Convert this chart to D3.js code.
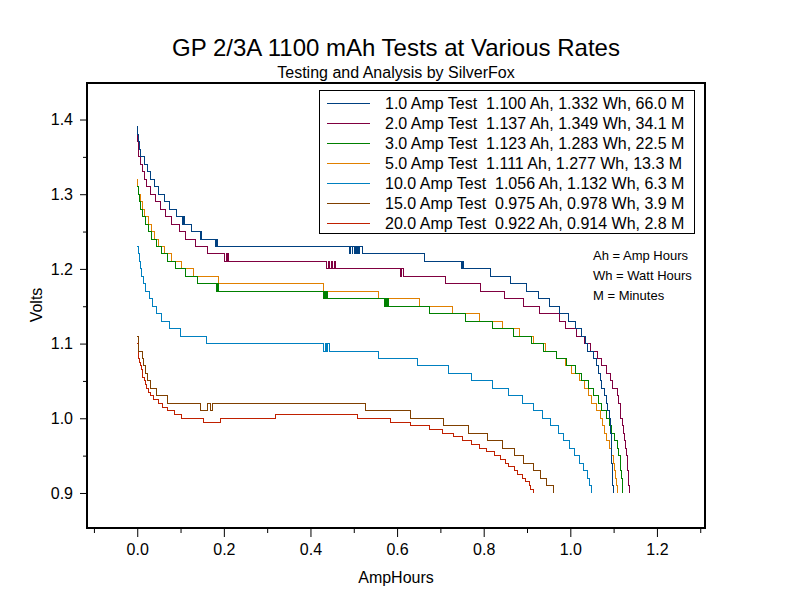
<!DOCTYPE html>
<html>
<head>
<meta charset="utf-8">
<script src="https://cdn.jsdelivr.net/npm/d3@7"></script>
<style>
body { margin: 0; background: #fff; }
text { font-family: "Liberation Sans", Arial, sans-serif; fill: #000; }
</style>
</head>
<body>
<div id="chart"></div>
<script>
// [AmpHours, Volts] – each point is where a new voltage level starts
const test1A = [[0.000,1.39],[0.001,1.38],[0.003,1.37],[0.005,1.36],[0.008,1.35],[0.016,1.34],[0.023,1.33],[0.030,1.32],[0.039,1.31],[0.048,1.30],[0.062,1.29],[0.074,1.28],[0.090,1.27],[0.105,1.26],[0.106,1.27],[0.107,1.26],[0.108,1.27],[0.109,1.26],[0.126,1.25],[0.146,1.24],[0.147,1.25],[0.148,1.24],[0.181,1.23],[0.183,1.24],[0.185,1.23],[0.491,1.22],[0.493,1.23],[0.496,1.22],[0.498,1.23],[0.501,1.22],[0.503,1.23],[0.506,1.22],[0.508,1.23],[0.511,1.22],[0.513,1.23],[0.519,1.22],[0.520,1.23],[0.521,1.22],[0.663,1.21],[0.748,1.20],[0.750,1.21],[0.753,1.20],[0.815,1.19],[0.861,1.18],[0.898,1.17],[0.927,1.16],[0.952,1.15],[0.976,1.14],[0.995,1.13],[1.011,1.12],[1.025,1.11],[1.034,1.10],[1.040,1.09],[1.053,1.08],[1.061,1.07],[1.065,1.06],[1.070,1.05],[1.073,1.04],[1.078,1.03],[1.084,1.02],[1.086,1.01],[1.090,1.00],[1.092,0.99],[1.093,0.98],[1.094,0.97],[1.095,0.96],[1.096,0.95],[1.096,0.94],[1.097,0.93],[1.097,0.92],[1.098,0.91],[1.099,0.90]];
const test2A = [[0.000,1.38],[0.001,1.37],[0.002,1.36],[0.004,1.35],[0.007,1.34],[0.011,1.33],[0.016,1.32],[0.022,1.31],[0.030,1.30],[0.042,1.29],[0.053,1.28],[0.065,1.27],[0.080,1.26],[0.097,1.25],[0.112,1.24],[0.134,1.23],[0.162,1.22],[0.201,1.21],[0.207,1.22],[0.209,1.21],[0.210,1.22],[0.211,1.21],[0.438,1.20],[0.441,1.21],[0.445,1.20],[0.449,1.21],[0.452,1.20],[0.455,1.21],[0.457,1.20],[0.607,1.19],[0.610,1.20],[0.614,1.19],[0.711,1.18],[0.792,1.17],[0.848,1.16],[0.891,1.15],[0.930,1.14],[0.976,1.13],[0.990,1.12],[1.015,1.11],[1.032,1.10],[1.047,1.09],[1.062,1.08],[1.073,1.07],[1.084,1.06],[1.092,1.05],[1.098,1.04],[1.109,1.03],[1.112,1.02],[1.115,1.01],[1.116,1.00],[1.120,0.99],[1.122,0.98],[1.125,0.97],[1.128,0.96],[1.130,0.95],[1.132,0.94],[1.133,0.93],[1.134,0.92],[1.135,0.91],[1.136,0.90]];
const test3A = [[0.000,1.31],[0.002,1.30],[0.005,1.29],[0.008,1.28],[0.012,1.27],[0.018,1.26],[0.025,1.25],[0.032,1.24],[0.044,1.23],[0.055,1.22],[0.070,1.21],[0.088,1.20],[0.111,1.19],[0.138,1.18],[0.182,1.17],[0.184,1.18],[0.185,1.17],[0.187,1.18],[0.188,1.17],[0.430,1.16],[0.432,1.17],[0.434,1.16],[0.437,1.17],[0.440,1.16],[0.572,1.15],[0.574,1.16],[0.576,1.15],[0.578,1.16],[0.580,1.15],[0.676,1.14],[0.757,1.13],[0.820,1.12],[0.868,1.11],[0.911,1.10],[0.939,1.09],[0.969,1.08],[0.992,1.07],[1.011,1.06],[1.026,1.05],[1.042,1.04],[1.053,1.03],[1.065,1.02],[1.073,1.01],[1.084,1.00],[1.090,0.99],[1.096,0.98],[1.103,0.97],[1.109,0.96],[1.112,0.95],[1.115,0.94],[1.117,0.93],[1.119,0.92],[1.120,0.91],[1.121,0.90]];
const test5A = [[0.000,1.32],[0.001,1.31],[0.003,1.30],[0.007,1.29],[0.011,1.28],[0.016,1.27],[0.025,1.26],[0.032,1.25],[0.039,1.24],[0.049,1.23],[0.062,1.22],[0.079,1.21],[0.102,1.20],[0.131,1.19],[0.188,1.18],[0.430,1.17],[0.557,1.16],[0.651,1.15],[0.728,1.14],[0.791,1.13],[0.844,1.12],[0.882,1.11],[0.915,1.10],[0.942,1.09],[0.969,1.08],[0.988,1.07],[1.003,1.06],[1.021,1.05],[1.032,1.04],[1.042,1.03],[1.049,1.02],[1.061,1.01],[1.069,1.00],[1.074,0.99],[1.078,0.98],[1.084,0.97],[1.090,0.96],[1.094,0.95],[1.099,0.94],[1.102,0.93],[1.104,0.92],[1.107,0.91],[1.110,0.90]];
const test10A = [[0.000,1.23],[0.003,1.22],[0.005,1.21],[0.007,1.20],[0.010,1.19],[0.015,1.18],[0.020,1.17],[0.028,1.16],[0.036,1.15],[0.045,1.14],[0.057,1.13],[0.074,1.12],[0.100,1.11],[0.159,1.10],[0.430,1.09],[0.434,1.10],[0.438,1.09],[0.440,1.10],[0.443,1.09],[0.558,1.08],[0.647,1.07],[0.718,1.06],[0.772,1.05],[0.820,1.04],[0.858,1.03],[0.890,1.02],[0.915,1.01],[0.936,1.00],[0.955,0.99],[0.972,0.98],[0.984,0.97],[0.998,0.96],[1.009,0.95],[1.021,0.94],[1.030,0.93],[1.039,0.92],[1.044,0.91],[1.049,0.90]];
const test15A = [[0.000,1.11],[0.002,1.10],[0.003,1.09],[0.011,1.08],[0.015,1.07],[0.018,1.06],[0.024,1.05],[0.031,1.04],[0.045,1.03],[0.071,1.02],[0.145,1.01],[0.162,1.02],[0.169,1.01],[0.173,1.02],[0.526,1.01],[0.630,1.00],[0.708,0.99],[0.764,0.98],[0.808,0.97],[0.844,0.96],[0.871,0.95],[0.893,0.94],[0.916,0.93],[0.932,0.92],[0.944,0.91],[0.961,0.90]];
const test20A = [[0.000,1.10],[0.002,1.085],[0.003,1.08],[0.005,1.075],[0.007,1.07],[0.009,1.065],[0.011,1.06],[0.013,1.055],[0.016,1.05],[0.018,1.045],[0.022,1.04],[0.026,1.035],[0.030,1.03],[0.038,1.025],[0.048,1.02],[0.058,1.015],[0.070,1.01],[0.087,1.005],[0.103,1.00],[0.152,0.995],[0.193,1.00],[0.320,1.005],[0.508,1.00],[0.585,0.995],[0.632,0.99],[0.674,0.985],[0.705,0.98],[0.731,0.975],[0.752,0.97],[0.771,0.965],[0.790,0.96],[0.807,0.955],[0.824,0.95],[0.838,0.945],[0.851,0.94],[0.858,0.935],[0.870,0.93],[0.879,0.925],[0.889,0.92],[0.897,0.915],[0.905,0.91],[0.909,0.905],[0.915,0.90]];

const seriesData = [test1A, test2A, test3A, test5A, test10A, test15A, test20A];
const seriesColors = ['#004080', '#800040', '#008000', '#e08000', '#0080c0', '#804000', '#c02000'];
const legendLabels = [
    '1.0 Amp Test  1.100 Ah, 1.332 Wh, 66.0 M',
    '2.0 Amp Test  1.137 Ah, 1.349 Wh, 34.1 M',
    '3.0 Amp Test  1.123 Ah, 1.283 Wh, 22.5 M',
    '5.0 Amp Test  1.111 Ah, 1.277 Wh, 13.3 M',
    '10.0 Amp Test  1.056 Ah, 1.132 Wh, 6.3 M',
    '15.0 Amp Test  0.975 Ah, 0.978 Wh, 3.9 M',
    '20.0 Amp Test  0.922 Ah, 0.914 Wh, 2.8 M'
];
const notes = ['Ah = Amp Hours', 'Wh = Watt Hours', 'M = Minutes'];

const xMajorTicks = [0, 0.2, 0.4, 0.6, 0.8, 1.0, 1.2];
const xMinorTicks = [-0.1, 0.1, 0.3, 0.5, 0.7, 0.9, 1.1, 1.3];
const yMajorTicks = [0.9, 1.0, 1.1, 1.2, 1.3, 1.4];
const yMinorTicks = [0.95, 1.05, 1.15, 1.25, 1.35];

// SVG
const svg = d3.select('#chart')
    .append('svg')
    .attr('width', 792)
    .attr('height', 611);

const x = d3.scaleLinear().domain([-0.116, 1.311]).range([87, 705]);
const y = d3.scaleLinear().domain([0.8531, 1.4489]).range([528, 83]);

// titles
svg.append('text').attr('x', 396).attr('y', 56).attr('text-anchor', 'middle')
    .style('font-size', '24px').text('GP 2/3A 1100 mAh Tests at Various Rates');
svg.append('text').attr('x', 396).attr('y', 78).attr('text-anchor', 'middle')
    .style('font-size', '16px').text('Testing and Analysis by SilverFox');

// axes
function styleAxis(g) {
    g.select('.domain').remove();
    g.selectAll('line').attr('stroke', '#000');
    g.selectAll('text').style('font-size', '16px').attr('font-family', null);
}

svg.append('g').attr('transform', 'translate(0,528)')
    .call(d3.axisBottom(x).tickValues(xMinorTicks).tickSize(5).tickFormat(''))
    .call(styleAxis);
svg.append('g').attr('transform', 'translate(0,528)')
    .call(d3.axisBottom(x).tickValues(xMajorTicks).tickSize(9).tickPadding(7).tickFormat(d3.format('.1f')))
    .call(styleAxis);

svg.append('g').attr('transform', 'translate(87,0)')
    .call(d3.axisLeft(y).tickValues(yMinorTicks).tickSize(4).tickFormat(''))
    .call(styleAxis);
svg.append('g').attr('transform', 'translate(87,0)')
    .call(d3.axisLeft(y).tickValues(yMajorTicks).tickSize(7).tickPadding(7).tickFormat(d3.format('.1f')))
    .call(styleAxis);

// axis labels
svg.append('text').attr('x', 396).attr('y', 583).attr('text-anchor', 'middle')
    .style('font-size', '16px').text('AmpHours');
svg.append('text').attr('transform', 'translate(42,305)rotate(-90)').attr('text-anchor', 'middle')
    .style('font-size', '16px').text('Volts');

// curves
const line = d3.line()
    .x(d => x(d[0]))
    .y(d => y(d[1]))
    .curve(d3.curveStepAfter);

svg.append('g').selectAll('path')
    .data(seriesData.slice().reverse())
    .enter().append('path')
    .attr('fill', 'none')
    .attr('stroke', (d, i) => seriesColors[seriesData.length - 1 - i])
    .attr('stroke-width', 1)
    .attr('shape-rendering', 'crispEdges')
    .attr('d', line);

// frame
svg.append('rect')
    .attr('x', 87).attr('y', 83).attr('width', 618).attr('height', 445)
    .attr('fill', 'none').attr('stroke', '#000').attr('stroke-width', 2);

// legend
const legend = svg.append('g');
legend.append('rect')
    .attr('x', 319.5).attr('y', 90.5).attr('width', 375).attr('height', 143)
    .attr('fill', '#fff').attr('stroke', '#000');

const rows = legend.selectAll('g.row')
    .data(legendLabels)
    .enter().append('g')
    .attr('transform', (d, i) => `translate(0,${103 + i * 20})`);
rows.append('line')
    .attr('x1', 327).attr('x2', 370).attr('y1', 0.5).attr('y2', 0.5)
    .attr('stroke', (d, i) => seriesColors[i]);
rows.append('text')
    .attr('x', 385).attr('y', 5.5)
    .attr('xml:space', 'preserve')
    .style('white-space', 'pre')
    .style('font-size', '16px')
    .text(d => d);

svg.append('g').selectAll('text')
    .data(notes)
    .enter().append('text')
    .attr('x', 593)
    .attr('y', (d, i) => 260 + i * 20)
    .style('font-size', '13px')
    .text(d => d);
</script>
</body>
</html>
